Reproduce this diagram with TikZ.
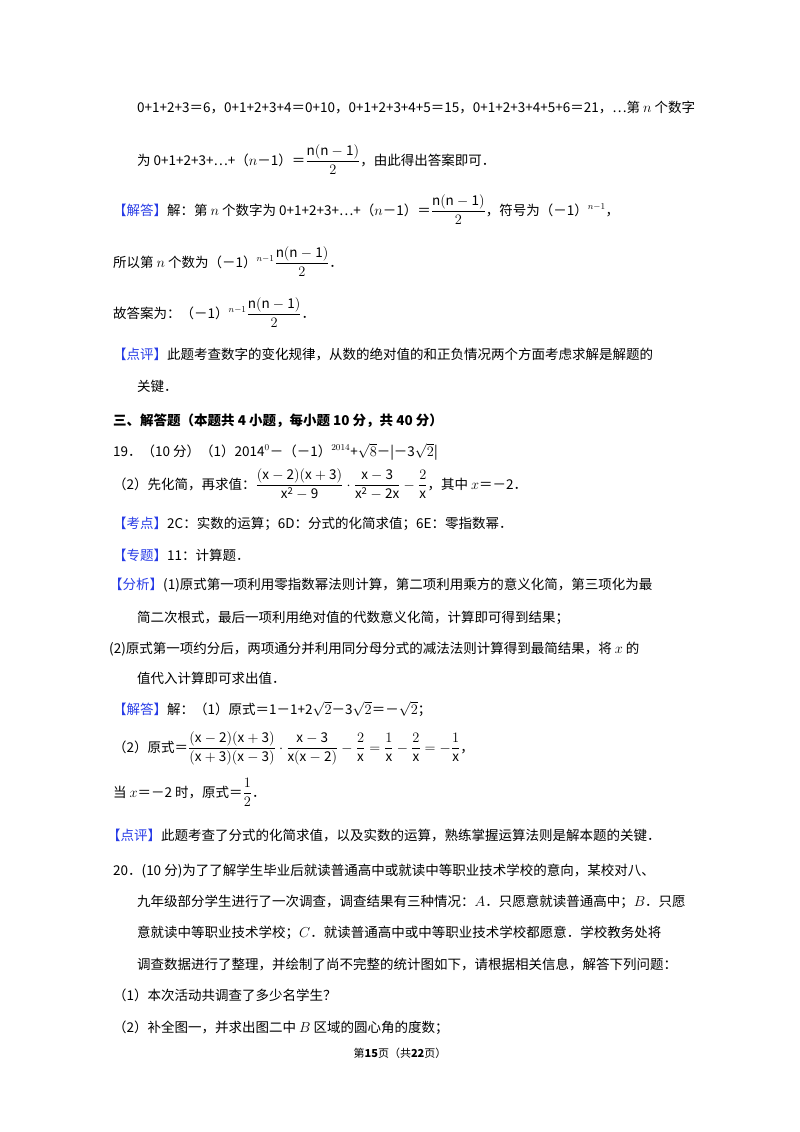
\documentclass[tikz,border=0pt]{standalone}
\usepackage{amsmath}
\usepackage{fontspec}
\setmainfont{Noto Sans CJK SC}
\definecolor{tagblue}{RGB}{40,60,230}
\newcommand{\tg}[1]{\textcolor{tagblue}{【#1】}}
\begin{document}
\begin{tikzpicture}[x=1pt,y=-1pt,
  t/.style={anchor=base west,inner sep=0pt,font=\fontsize{13.5}{16}\selectfont}]
\useasboundingbox (0,0) rectangle (800,1132);
\node[t] (l1) at (137,112) {0+1+2+3＝6，0+1+2+3+4＝0+10，0+1+2+3+4+5＝15，0+1+2+3+4+5+6＝21，⋯第 $n$ 个数字};
\node[t] (l2) at (137,165) {为 0+1+2+3+⋯+（$n$－1）＝$\dfrac{\mathrm{n(n-1)}}{2}$，由此得出答案即可．};
\node[t] (l3) at (113,215) {\tg{解答}解：第 $n$ 个数字为 0+1+2+3+⋯+（$n$－1）＝$\dfrac{\mathrm{n(n-1)}}{2}$，符号为（－1）$^{n-1}$，};
\node[t] (l4) at (113,267) {所以第 $n$ 个数为（－1）$^{n-1}\dfrac{\mathrm{n(n-1)}}{2}$．};
\node[t] (l5) at (113,318) {故答案为：（－1）$^{n-1}\dfrac{\mathrm{n(n-1)}}{2}$．};
\node[t] (l6) at (113,359) {\tg{点评}此题考查数字的变化规律，从数的绝对值的和正负情况两个方面考虑求解是解题的};
\node[t] (l7) at (137,391) {关键．};
\node[t,font=\fontsize{13.5}{16}\selectfont\bfseries] (l8) at (113,425) {三、解答题（本题共 4 小题，每小题 10 分，共 40 分）};
\node[t] (l9) at (113,456) {19．（10 分）（1）2014$^0$－（－1）$^{2014}$+$\sqrt{8}$－|－3$\sqrt{2}$|};
\node[t] (l10) at (113,489) {（2）先化简，再求值：$\dfrac{\mathrm{(x-2)(x+3)}}{\mathrm{x^2-9}}\cdot\dfrac{\mathrm{x-3}}{\mathrm{x^2-2x}}-\dfrac{2}{\mathrm{x}}$，其中 $x$＝－2．};
\node[t] (l11) at (113,528) {\tg{考点}2C：实数的运算；6D：分式的化简求值；6E：零指数幂．};
\node[t] (l12) at (113,560) {\tg{专题}11：计算题．};
\node[t] (l13) at (109,589) {\tg{分析}(1)原式第一项利用零指数幂法则计算，第二项利用乘方的意义化简，第三项化为最};
\node[t] (l14) at (137,622) {简二次根式，最后一项利用绝对值的代数意义化简，计算即可得到结果；};
\node[t] (l15) at (109,653) {(2)原式第一项约分后，两项通分并利用同分母分式的减法法则计算得到最简结果，将 $x$ 的};
\node[t] (l16) at (137,683) {值代入计算即可求出值．};
\node[t] (l17) at (113,714) {\tg{解答}解：（1）原式＝1－1+2$\sqrt{2}$－3$\sqrt{2}$＝－$\sqrt{2}$；};
\node[t] (l18) at (113,752) {（2）原式＝$\dfrac{\mathrm{(x-2)(x+3)}}{\mathrm{(x+3)(x-3)}}\cdot\dfrac{\mathrm{x-3}}{\mathrm{x(x-2)}}-\dfrac{2}{\mathrm{x}}=\dfrac{1}{\mathrm{x}}-\dfrac{2}{\mathrm{x}}=-\dfrac{1}{\mathrm{x}}$，};
\node[t] (l19) at (113,797) {当 $x$＝－2 时，原式＝$\dfrac{1}{2}$．};
\node[t] (l20) at (107,840) {\tg{点评}此题考查了分式的化简求值，以及实数的运算，熟练掌握运算法则是解本题的关键．};
\node[t] (l21) at (113,875) {20．(10 分)为了了解学生毕业后就读普通高中或就读中等职业技术学校的意向，某校对八、};
\node[t] (l22) at (137,906) {九年级部分学生进行了一次调查，调查结果有三种情况：$A$．只愿意就读普通高中；$B$．只愿};
\node[t] (l23) at (137,937) {意就读中等职业技术学校；$C$．就读普通高中或中等职业技术学校都愿意．学校教务处将};
\node[t] (l24) at (137,969) {调查数据进行了整理，并绘制了尚不完整的统计图如下，请根据相关信息，解答下列问题：};
\node[t] (l25) at (113,1000) {（1）本次活动共调查了多少名学生？};
\node[t] (l26) at (113,1032) {（2）补全图一，并求出图二中 $B$ 区域的圆心角的度数；};
\node[anchor=base,inner sep=0pt,font=\fontsize{11}{13}\selectfont] (ft) at (400,1057) {第\textbf{15}页（共\textbf{22}页）};
\end{tikzpicture}
\end{document}
